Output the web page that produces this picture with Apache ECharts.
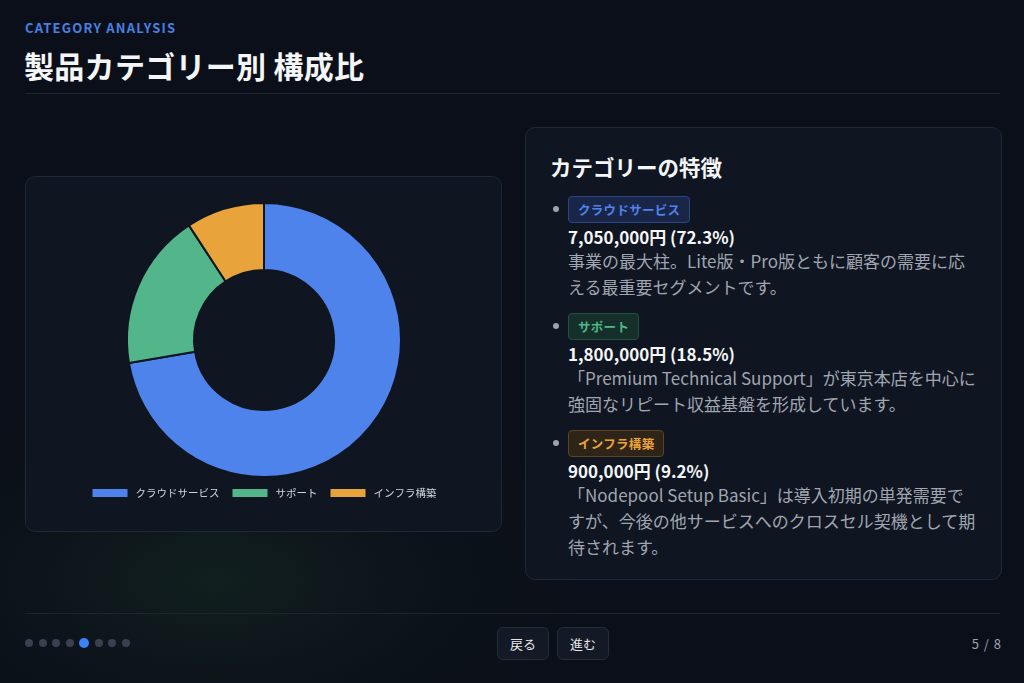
<!DOCTYPE html>
<html lang="ja">
<head>
<meta charset="utf-8">
<script src="https://cdn.jsdelivr.net/npm/echarts@6/dist/echarts.min.js"></script>
<style>
  html, body { margin:0; padding:0; }
  body {
    width:1024px; height:683px; overflow:hidden; position:relative;
    font-family: "Noto Sans CJK JP", "Noto Sans", sans-serif;
    background:#0b0f19;
    color:#f3f4f6;
  }
  .glow {
    position:absolute; left:-100px; top:380px; width:700px; height:400px;
    background: radial-gradient(ellipse at 45% 50%, rgba(40,90,50,0.22) 0%, rgba(20,50,35,0.10) 40%, rgba(11,15,25,0) 70%);
    pointer-events:none;
  }
  .kicker { position:absolute; left:25px; top:18px; font-size:13px; font-weight:700; letter-spacing:1.2px; color:#4a7fe0; }
  .title { position:absolute; left:24px; top:43px; font-size:30px; font-weight:700; color:#f5f6f8; letter-spacing:0.3px; }
  .hr { position:absolute; left:25px; right:24px; height:1px; background:#1c2331; }
  .card { position:absolute; background:#0f1521; border:1px solid #1f2836; border-radius:10px; box-sizing:border-box; }
  #chart { position:absolute; left:0; top:0; width:100%; height:100%; }
  .panel h2 { position:absolute; left:24px; top:23px; margin:0; font-size:21.5px; font-weight:700; color:#f5f6f8; }
  .item { position:absolute; left:24px; width:440px; }
  .bullet { position:absolute; left:3px; top:10px; width:6px; height:6px; border-radius:50%; background:#9ca3af; }
  .badge { position:absolute; left:18px; top:0; height:27px; line-height:25px; padding:0 9px; font-size:12.5px; font-weight:700; border-radius:4px; box-sizing:border-box; letter-spacing:0.3px; }
  .value { position:absolute; left:18px; top:28px; font-size:17px; font-weight:700; color:#f5f6f8; white-space:nowrap; }
  .desc { position:absolute; left:18px; top:52px; width:412px; font-size:17px; line-height:26px; color:#a0a6b0; }
  .dots { position:absolute; left:25px; top:639px; display:flex; gap:5.5px; }
  .dots span { width:8px; height:8px; border-radius:50%; background:#394150; display:block; }
  .dots span.on { background:#3b82f6; width:10px; height:10px; margin-top:-1px; }
  .btn { position:absolute; top:627px; height:33px; width:52px; border:1px solid #252d3a; border-radius:6px; background:#141a25; color:#e5e7eb; font-size:13px; line-height:31px; text-align:center; box-sizing:border-box; }
  .pager { position:absolute; right:22px; top:634px; font-size:13px; color:#9ca3af; letter-spacing:1px; }
</style>
</head>
<body>
<div class="glow"></div>
<div class="kicker">CATEGORY ANALYSIS</div>
<div class="title">製品カテゴリー別 構成比</div>
<div class="hr" style="top:93px"></div>

<div class="card" style="left:25px;top:176px;width:477px;height:356px;"><div id="chart"></div></div>

<div class="card panel" id="panel" style="left:525px;top:127px;width:477px;height:453px;">
  <h2>カテゴリーの特徴</h2>
</div>

<div class="hr" style="top:613px"></div>
<div class="dots" id="dots"></div>
<div class="btn" style="left:497px">戻る</div>
<div class="btn" style="left:557px">進む</div>
<div class="pager">5 / 8</div>

<script>
const categories = ["クラウドサービス", "サポート", "インフラ構築"];
const values = [7050000, 1800000, 900000];
const percents = ["72.3%", "18.5%", "9.2%"];
const colors = ["#4f83ec", "#52b68a", "#e9a33b"];
const descriptions = [
  "事業の最大柱。Lite版・Pro版ともに顧客の需要に応える最重要セグメントです。",
  "「Premium Technical Support」が東京本店を中心に強固なリピート収益基盤を形成しています。",
  "「Nodepool Setup Basic」は導入初期の単発需要ですが、今後の他サービスへのクロスセル契機として期待されます。"
];
const badgeStyles = [
  {bg:"#1a2647", border:"#2c4584", color:"#4f83ec"},
  {bg:"#15302a", border:"#24503f", color:"#52b68a"},
  {bg:"#2f2418", border:"#5c4422", color:"#e9a33b"}
];
const itemTops = [68, 185, 302];

const panel = document.getElementById('panel');
categories.forEach((c, i) => {
  const d = document.createElement('div');
  d.className = 'item';
  d.style.top = itemTops[i] + 'px';
  const s = badgeStyles[i];
  d.innerHTML = '<div class="bullet"></div>' +
    '<div class="badge" style="background:' + s.bg + ';border:1px solid ' + s.border + ';color:' + s.color + '">' + c + '</div>' +
    '<div class="value">' + values[i].toLocaleString('en-US') + '円 (' + percents[i] + ')</div>' +
    '<div class="desc">' + descriptions[i] + '</div>';
  panel.appendChild(d);
});

const dots = document.getElementById('dots');
for (let i = 0; i < 8; i++) {
  const s = document.createElement('span');
  if (i === 4) s.className = 'on';
  dots.appendChild(s);
}

const chart = echarts.init(document.getElementById('chart'));
chart.setOption({
  animation: false,
  color: colors,
  legend: {
    bottom: 27,
    left: 'center',
    itemWidth: 37,
    itemHeight: 10,
    itemGap: 11,
    icon: 'rect',
    textStyle: { color: '#d1d5db', fontSize: 10.5, fontFamily: 'Noto Sans CJK JP', padding: [0, 0, 0, 2] },
    data: categories
  },
  series: [{
    type: 'pie',
    center: [238, 163],
    radius: [70, 137],
    startAngle: 90,
    clockwise: true,
    label: { show: false },
    labelLine: { show: false },
    itemStyle: { borderColor: '#0f1521', borderWidth: 2 },
    emphasis: { disabled: true },
    data: categories.map((c, i) => ({ name: c, value: values[i] }))
  }]
});
</script>
</body>
</html>
